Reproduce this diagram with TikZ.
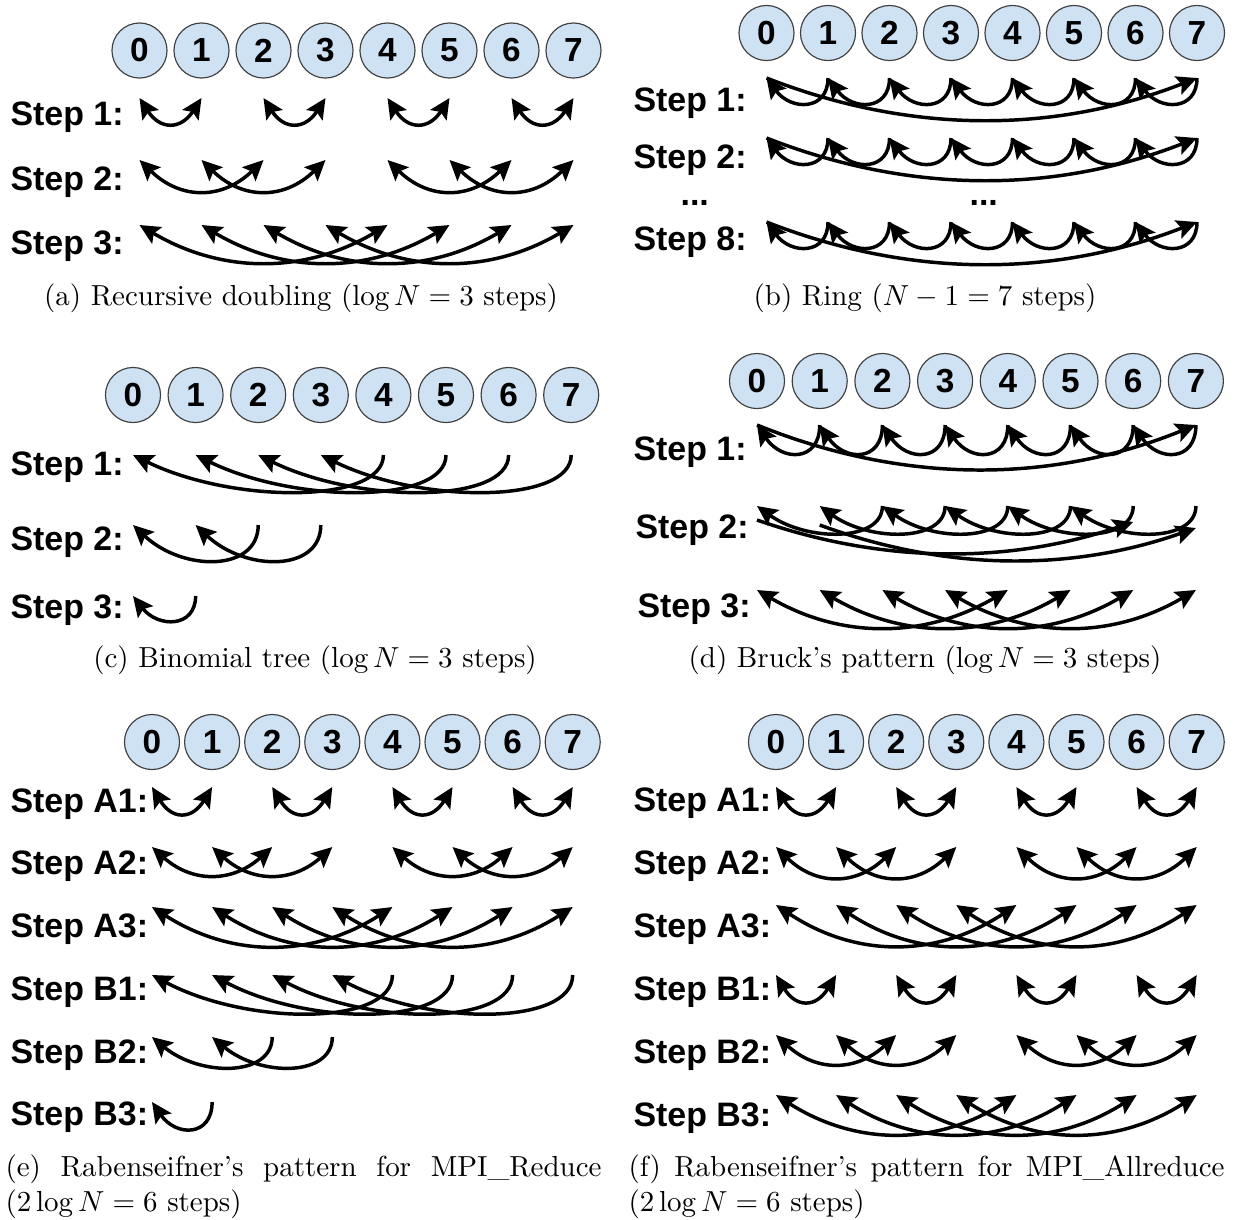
\documentclass[tikz,border=0pt]{standalone}
\usepackage{fontspec}
\newfontfamily\arialfont{Liberation Sans}
\usetikzlibrary{arrows.meta, calc}
\definecolor{procblue}{HTML}{CFE2F3}

\tikzset{
  proc/.style={draw=black!75, thin, circle, fill=procblue, minimum size=19pt, inner sep=0pt,
    font=\arialfont\bfseries\fontsize{11.5}{13}\selectfont},
  steplbl/.style={anchor=base west, inner sep=0pt, font=\arialfont\bfseries\fontsize{11.7}{14}\selectfont},
  subcap/.style={inner sep=0pt, font=\normalsize},
  tip/.tip={Stealth[length=7pt, width=6.6pt, inset=1.3pt]},
  flow/.style={line width=1.2pt, -tip},
  xchg/.style={line width=1.2pt, tip-tip},
  sagcurve/.style={to path={.. controls ($(\tikztostart)!0.333!(\tikztotarget)+(0,#1)$)
    and ($(\tikztostart)!0.667!(\tikztotarget)+(0,#1)$) .. (\tikztotarget)}},
  hookcurve/.style={to path={.. controls ($(\tikztostart)+(0,#1)$)
    and ($(\tikztotarget)!0.4!(\tikztostart)+(0,#1)$) .. (\tikztotarget)}}
}

\begin{document}
\begin{tikzpicture}[x=0.345pt, y=-0.345pt]
\useasboundingbox (0,0) rectangle (1236,1219);

\foreach \i in {0,...,7} {
  \node[proc] (a\i) at ({139.5+62*\i},50.5) {\i};
  \node[proc] (b\i) at ({766.5+61.5*\i},33) {\i};
  \node[proc] (c\i) at ({133+62.6*\i},395) {\i};
  \node[proc] (d\i) at ({757+62.7*\i},381) {\i};
  \node[proc] (e\i) at ({152+60.1*\i},742) {\i};
  \node[proc] (f\i) at ({776+60.1*\i},742) {\i};
}

\foreach \r/\y in {1/98,2/160,3/225}
  \foreach \i in {0,...,7} \coordinate (a\r-\i) at (a\i |- 0,\y);
\foreach \r/\y in {1/78,2/138,8/222}
  \foreach \i in {0,...,7} \coordinate (b\r-\i) at (b\i |- 0,\y);
\foreach \r/\y in {1/455,2/525,3/596}
  \foreach \i in {0,...,7} \coordinate (c\r-\i) at (c\i |- 0,\y);
\foreach \r/\y in {1/425,2/506,3/590}
  \foreach \i in {0,...,7} \coordinate (d\r-\i) at (d\i |- 0,\y);
\foreach \r/\y in {A1/787,A2/847,A3/907,B1/975,B2/1037,B3/1102}
  \foreach \i in {0,...,7} \coordinate (e\r-\i) at (e\i |- 0,\y);
\foreach \r/\y in {A1/787,A2/847,A3/905,B1/975,B2/1035,B3/1095}
  \foreach \i in {0,...,7} \coordinate (f\r-\i) at (f\i |- 0,\y);
\coordinate (d2-t0) at (d0 |- 0,520);
\coordinate (d2-t1) at (d1 |- 0,525);
\coordinate (d2-h6) at (d6 |- 0,522);
\coordinate (d2-h7) at (d7 |- 0,528);

\node[steplbl] (a-s1) at (10,125) {Step 1:};
\node[steplbl] (a-s2) at (10,190) {Step 2:};
\node[steplbl] (a-s3) at (10,254) {Step 3:};
\foreach \i/\j in {0/1,2/3,4/5,6/7} \draw[xchg] (a1-\i) to[sagcurve=32] (a1-\j);
\foreach \i/\j in {0/2,1/3,4/6,5/7} \draw[xchg] (a2-\i) to[sagcurve=40] (a2-\j);
\foreach \i/\j in {0/4,1/5,2/6,3/7} \draw[xchg] (a3-\i) to[sagcurve=49] (a3-\j);
\node[subcap] (cap-a) at (301,298) {(a) Recursive doubling ($\log N = 3$ steps)};

\node[steplbl] (b-s1) at (633,111) {Step 1:};
\node[steplbl] (b-s2) at (633,168) {Step 2:};
\node[steplbl] (b-dots1) at (680,205) {...};
\node[steplbl] (b-dots2) at (969,205) {...};
\node[steplbl] (b-s8) at (633,250) {Step 8:};
\foreach \r in {1,2,8} {
  \foreach \i/\j in {1/0,2/1,3/2,4/3,5/4,6/5,7/6} \draw[flow] (b\r-\i) to[hookcurve=33] (b\r-\j);
  \draw[flow] (b\r-0) to[sagcurve=56] (b\r-7);
}
\node[subcap] (cap-b) at (925,298) {(b) Ring ($N-1 = 7$ steps)};

\node[steplbl] (c-s1) at (10,475) {Step 1:};
\node[steplbl] (c-s2) at (10,550) {Step 2:};
\node[steplbl] (c-s3) at (10,618) {Step 3:};
\foreach \i/\j in {4/0,5/1,6/2,7/3} \draw[flow] (c1-\i) to[hookcurve=49] (c1-\j);
\foreach \i/\j in {2/0,3/1} \draw[flow] (c2-\i) to[hookcurve=47] (c2-\j);
\draw[flow] (c3-1) to[hookcurve=32] (c3-0);
\node[subcap] (cap-c) at (315,660) {(c) Binomial tree ($\log N = 3$ steps)};

\node[steplbl] (d-s1) at (633,460) {Step 1:};
\node[steplbl] (d-s2) at (635,538) {Step 2:};
\node[steplbl] (d-s3) at (637,617) {Step 3:};
\foreach \i/\j in {1/0,2/1,3/2,4/3,5/4,6/5,7/6} \draw[flow] (d1-\i) to[hookcurve=37] (d1-\j);
\draw[flow] (d1-0) to[sagcurve=59] (d1-7);
\foreach \i/\j in {2/0,3/1,4/2,5/3,6/4,7/5} \draw[flow] (d2-\i) to[hookcurve=36] (d2-\j);
\draw[flow] (d2-t0) to[sagcurve=43] (d2-h6);
\draw[flow] (d2-t1) to[sagcurve=45] (d2-h7);
\foreach \i/\j in {0/4,1/5,2/6,3/7} \draw[xchg] (d3-\i) to[sagcurve=49] (d3-\j);
\node[subcap] (cap-d) at (925,660) {(d) Bruck's pattern ($\log N = 3$ steps)};

\node[steplbl] (e-sA1) at (10,812) {Step A1:};
\node[steplbl] (e-sA2) at (10,874) {Step A2:};
\node[steplbl] (e-sA3) at (10,937) {Step A3:};
\node[steplbl] (e-sB1) at (10,1000) {Step B1:};
\node[steplbl] (e-sB2) at (10,1063) {Step B2:};
\node[steplbl] (e-sB3) at (10,1125) {Step B3:};
\foreach \i/\j in {0/1,2/3,4/5,6/7} \draw[xchg] (eA1-\i) to[sagcurve=33] (eA1-\j);
\foreach \i/\j in {0/2,1/3,4/6,5/7} \draw[xchg] (eA2-\i) to[sagcurve=36] (eA2-\j);
\foreach \i/\j in {0/4,1/5,2/6,3/7} \draw[xchg] (eA3-\i) to[sagcurve=51] (eA3-\j);
\foreach \i/\j in {4/0,5/1,6/2,7/3} \draw[flow] (eB1-\i) to[hookcurve=51] (eB1-\j);
\foreach \i/\j in {2/0,3/1} \draw[flow] (eB2-\i) to[hookcurve=40] (eB2-\j);
\draw[flow] (eB3-1) to[hookcurve=35] (eB3-0);
\node[subcap, text width=205.6pt, align=justify, anchor=north west] (cap-e) at (5,1154)
  {(e) Rabenseifner's pattern for MPI\_Reduce\linebreak ($2\log N = 6$ steps)};

\node[steplbl] (f-sA1) at (633,811) {Step A1:};
\node[steplbl] (f-sA2) at (633,874) {Step A2:};
\node[steplbl] (f-sA3) at (633,937) {Step A3:};
\node[steplbl] (f-sB1) at (633,1000) {Step B1:};
\node[steplbl] (f-sB2) at (633,1063) {Step B2:};
\node[steplbl] (f-sB3) at (633,1126) {Step B3:};
\foreach \i/\j in {0/1,2/3,4/5,6/7} \draw[xchg] (fA1-\i) to[sagcurve=33] (fA1-\j);
\foreach \i/\j in {0/2,1/3,4/6,5/7} \draw[xchg] (fA2-\i) to[sagcurve=39] (fA2-\j);
\foreach \i/\j in {0/4,1/5,2/6,3/7} \draw[xchg] (fA3-\i) to[sagcurve=53] (fA3-\j);
\foreach \i/\j in {0/1,2/3,4/5,6/7} \draw[xchg] (fB1-\i) to[sagcurve=33] (fB1-\j);
\foreach \i/\j in {0/2,1/3,4/6,5/7} \draw[xchg] (fB2-\i) to[sagcurve=37] (fB2-\j);
\foreach \i/\j in {0/4,1/5,2/6,3/7} \draw[xchg] (fB3-\i) to[sagcurve=51] (fB3-\j);
\node[subcap, text width=205.6pt, align=justify, anchor=north west] (cap-f) at (628,1154)
  {(f) Rabenseifner's pattern for MPI\_Allreduce\linebreak ($2\log N = 6$ steps)};
\end{tikzpicture}
\end{document}
